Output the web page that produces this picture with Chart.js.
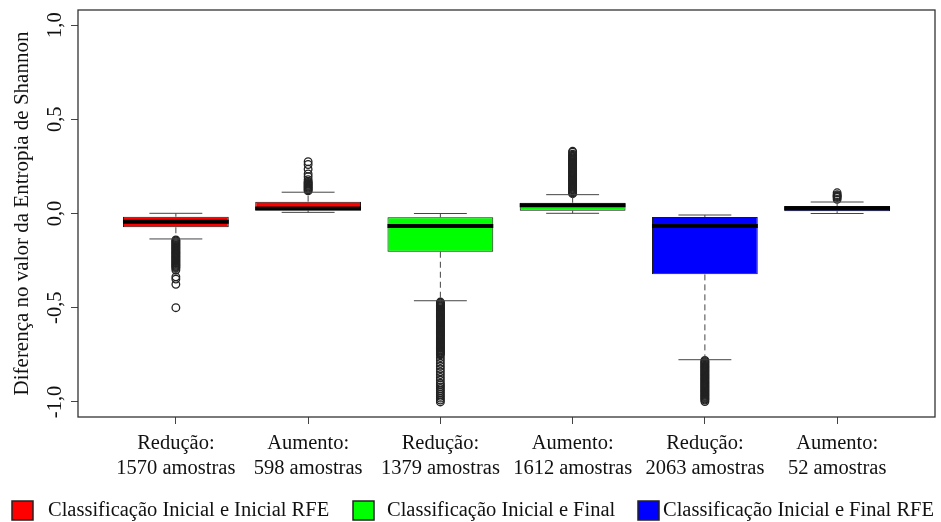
<!DOCTYPE html>
<html>
<head>
<meta charset="utf-8">
<script src="https://cdn.jsdelivr.net/npm/chart.js@4.4.0/dist/chart.umd.min.js"></script>
<style>
  html, body { margin: 0; padding: 0; background: #ffffff; }
  #wrap { width: 941px; height: 522px; position: relative; }
</style>
</head>
<body>
<div id="wrap"><canvas id="chart"></canvas></div>
<script>
// ---- data ----
const groups = [
  'Classificação Inicial e Inicial RFE',
  'Classificação Inicial e Final',
  'Classificação Inicial e Final RFE'
];
const boxGroup = [0, 0, 1, 1, 2, 2];
const categories = [
  ['Redução:', '1570 amostras'],
  ['Aumento:', '598 amostras'],
  ['Redução:', '1379 amostras'],
  ['Aumento:', '1612 amostras'],
  ['Redução:', '2063 amostras'],
  ['Aumento:', '52 amostras']
];
const q1          = [-0.073, 0.016, -0.203, 0.015, -0.323, 0.012];
const q3          = [-0.017, 0.063, -0.020, 0.057, -0.019, 0.040];
const medians     = [-0.044, 0.027, -0.066, 0.044, -0.066, 0.028];
const whiskerLow  = [-0.135, 0.006, -0.463, 0.001, -0.776, 0.000];
const whiskerHigh = [ 0.001, 0.113,  0.000, 0.100, -0.008, 0.061];
const outliers = [
  [-0.140, -0.145, -0.150, -0.155, -0.160, -0.165, -0.170, -0.175, -0.180, -0.185,
   -0.190, -0.195, -0.200, -0.205, -0.210, -0.215, -0.220, -0.225, -0.230, -0.235,
   -0.240, -0.245, -0.250, -0.255, -0.260, -0.265, -0.270, -0.275, -0.280, -0.285,
   -0.290, -0.300, -0.336, -0.348, -0.376, -0.500],
  [0.120, 0.125, 0.130, 0.135, 0.140, 0.145, 0.150, 0.155, 0.160, 0.165, 0.170,
   0.180, 0.195, 0.210, 0.235, 0.260, 0.275],
  [-0.470, -0.475, -0.480, -0.485, -0.490, -0.495, -0.500, -0.505, -0.510, -0.515,
   -0.520, -0.525, -0.530, -0.535, -0.540, -0.545, -0.550, -0.555, -0.560, -0.565,
   -0.570, -0.575, -0.580, -0.585, -0.590, -0.595, -0.600, -0.605, -0.610, -0.615,
   -0.620, -0.625, -0.630, -0.635, -0.640, -0.645, -0.650, -0.655, -0.660, -0.665,
   -0.670, -0.675, -0.680, -0.685, -0.690, -0.695, -0.700, -0.705, -0.710, -0.715,
   -0.720, -0.725, -0.730, -0.735, -0.740, -0.745, -0.750, -0.765, -0.780, -0.795,
   -0.810, -0.825, -0.840, -0.855, -0.870, -0.885, -0.900, -0.910, -0.920, -0.930,
   -0.940, -0.950, -0.960, -0.970, -0.980, -0.990, -1.000],
  [0.105, 0.110, 0.115, 0.120, 0.125, 0.130, 0.135, 0.140, 0.145, 0.150, 0.155,
   0.160, 0.165, 0.170, 0.175, 0.180, 0.185, 0.190, 0.195, 0.200, 0.205, 0.210,
   0.215, 0.220, 0.225, 0.230, 0.235, 0.240, 0.245, 0.250, 0.255, 0.260, 0.265,
   0.270, 0.275, 0.280, 0.285, 0.290, 0.295, 0.300, 0.305, 0.310, 0.315, 0.325, 0.330],
  [-0.780, -0.785, -0.790, -0.795, -0.800, -0.805, -0.810, -0.815, -0.820, -0.825,
   -0.830, -0.835, -0.840, -0.845, -0.850, -0.855, -0.860, -0.865, -0.870, -0.875,
   -0.880, -0.885, -0.890, -0.895, -0.900, -0.905, -0.910, -0.915, -0.920, -0.925,
   -0.930, -0.935, -0.940, -0.945, -0.950, -0.955, -0.960, -0.965, -0.970, -0.975,
   -0.980, -0.985, -0.990, -0.998],
  [0.075, 0.085, 0.090, 0.095, 0.100, 0.110]
];
const yTicks = [-1, -0.5, 0, 0.5, 1];
const yTickLabels = ['-1,0', '-0,5', '0,0', '0,5', '1,0'];
const yTitle = 'Diferença no valor da Entropia de Shannon';

// ---- styles ----
const FONT = 'Liberation Serif';
const groupColors = ['#ff0000', '#00ff00', '#0000ff'];
const legendLayout = { boxLeft: [12, 353, 638], textLeft: [48, 387, 663], boxTop: 501, boxW: 21, boxH: 19, baseline: 516 };

// whiskers, caps, medians, frame, rotated y labels and legend
const boxplotDecor = {
  id: 'boxplotDecor',
  afterDatasetsDraw(chart) {
    const { ctx, chartArea } = chart;
    const xs = chart.scales.x, ys = chart.scales.y;
    ctx.save();
    categories.forEach((_, i) => {
      const cx = xs.getPixelForValue(i + 1);
      const half = xs.getPixelForValue(i + 1.4) - cx;
      const capHalf = half / 2;
      const yQ1 = ys.getPixelForValue(q1[i]);
      const yQ3 = ys.getPixelForValue(q3[i]);
      const yLo = ys.getPixelForValue(whiskerLow[i]);
      const yHi = ys.getPixelForValue(whiskerHigh[i]);
      // dashed whiskers
      ctx.strokeStyle = '#444';
      ctx.lineWidth = 1;
      ctx.setLineDash([6, 4]);
      ctx.beginPath();
      ctx.moveTo(cx, yQ1); ctx.lineTo(cx, yLo);
      ctx.moveTo(cx, yQ3); ctx.lineTo(cx, yHi);
      ctx.stroke();
      // staples
      ctx.setLineDash([]);
      ctx.beginPath();
      ctx.moveTo(cx - capHalf, yLo); ctx.lineTo(cx + capHalf, yLo);
      ctx.moveTo(cx - capHalf, yHi); ctx.lineTo(cx + capHalf, yHi);
      ctx.stroke();
      // median
      const yMed = ys.getPixelForValue(medians[i]);
      ctx.strokeStyle = '#000';
      ctx.lineWidth = 4;
      ctx.beginPath();
      ctx.moveTo(cx - half, yMed); ctx.lineTo(cx + half, yMed);
      ctx.stroke();
    });
    // frame
    ctx.strokeStyle = '#333';
    ctx.lineWidth = 1.3;
    ctx.strokeRect(chartArea.left, chartArea.top, chartArea.right - chartArea.left, chartArea.bottom - chartArea.top);
    ctx.restore();
  },
  afterDraw(chart) {
    const { ctx } = chart;
    const ys = chart.scales.y;
    ctx.save();
    ctx.fillStyle = '#111';
    ctx.font = '20.5px "' + FONT + '"';
    ctx.textAlign = 'center';
    ctx.textBaseline = 'alphabetic';
    yTicks.forEach((v, i) => {
      ctx.save();
      ctx.translate(61, ys.getPixelForValue(v));
      ctx.rotate(-Math.PI / 2);
      ctx.fillText(yTickLabels[i], 0, 0);
      ctx.restore();
    });
    // legend
    ctx.textAlign = 'left';
    groups.forEach((g, gi) => {
      ctx.fillStyle = groupColors[gi];
      ctx.fillRect(legendLayout.boxLeft[gi], legendLayout.boxTop, legendLayout.boxW, legendLayout.boxH);
      ctx.strokeStyle = '#222';
      ctx.lineWidth = 1.5;
      ctx.strokeRect(legendLayout.boxLeft[gi], legendLayout.boxTop, legendLayout.boxW, legendLayout.boxH);
      ctx.fillStyle = '#111';
      ctx.fillText(g, legendLayout.textLeft[gi], legendLayout.baseline);
    });
    ctx.restore();
  }
};

const barDatasets = groups.map((g, gi) => ({
  type: 'bar',
  label: g,
  data: boxGroup.map((bg, i) => bg === gi ? { x: i + 1, y: [q1[i], q3[i]] } : null).filter(Boolean),
  backgroundColor: groupColors[gi],
  borderColor: '#1a1a1a',
  borderWidth: 1,
  borderSkipped: false,
  grouped: false,
  categoryPercentage: 0.8,
  barPercentage: 1.0
}));

const outlierDataset = {
  type: 'scatter',
  label: 'outliers',
  data: outliers.flatMap((arr, i) => arr.map(v => ({ x: i + 1, y: v }))),
  pointStyle: 'circle',
  pointRadius: 3.8,
  pointHoverRadius: 3.8,
  pointBorderWidth: 1.3,
  borderColor: '#222',
  backgroundColor: 'rgba(0,0,0,0)'
};

new Chart(document.getElementById('chart'), {
  type: 'bar',
  data: { datasets: [...barDatasets, outlierDataset] },
  options: {
    responsive: true,
    maintainAspectRatio: false,
    animation: false,
    devicePixelRatio: 1,
    layout: { padding: { left: 0, right: 6, top: 10, bottom: 0 } },
    plugins: { legend: { display: false }, tooltip: { enabled: false } },
    scales: {
      x: {
        type: 'linear',
        min: 0.26,
        max: 6.74,
        offset: false,
        afterBuildTicks: s => { s.ticks = categories.map((_, i) => ({ value: i + 1 })); },
        afterFit: s => { s.height = 105; },
        border: { display: false },
        grid: { offset: false, drawOnChartArea: false, drawTicks: true, tickLength: 7, color: '#444', lineWidth: 1 },
        ticks: {
          autoSkip: false,
          maxRotation: 0,
          minRotation: 0,
          padding: 7,
          color: '#111',
          font: { family: FONT, size: 20.5, lineHeight: 1.22 },
          callback: v => categories[v - 1]
        }
      },
      y: {
        type: 'linear',
        min: -1.08,
        max: 1.08,
        afterBuildTicks: s => { s.ticks = yTicks.map(v => ({ value: v })); },
        afterFit: s => { s.width = 78; },
        border: { display: false },
        grid: { offset: false, drawOnChartArea: false, drawTicks: true, tickLength: 7, color: '#444', lineWidth: 1 },
        ticks: { display: false },
        title: {
          display: true,
          text: yTitle,
          color: '#111',
          font: { family: FONT, size: 21 },
          padding: { top: 10, bottom: 0 }
        }
      }
    }
  },
  plugins: [boxplotDecor]
});
</script>
</body>
</html>
